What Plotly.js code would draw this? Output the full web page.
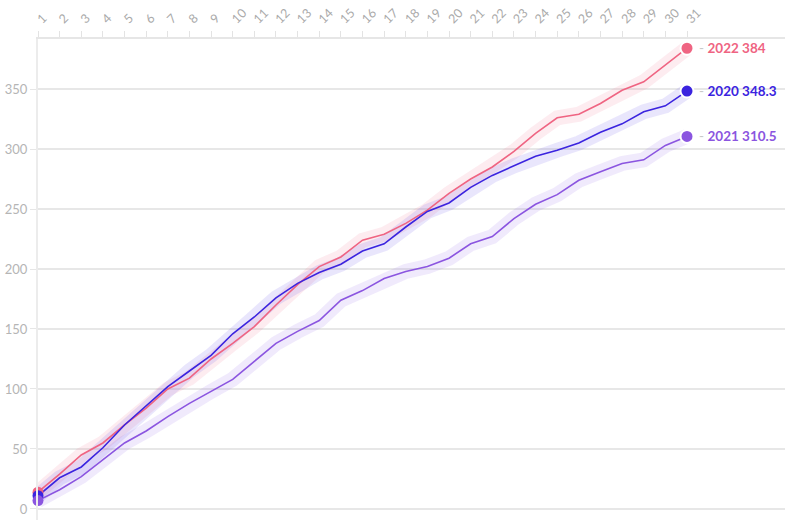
<!DOCTYPE html>
<html>
<head>
<meta charset="utf-8">
<script src="https://cdn.plot.ly/plotly-3.0.1.min.js"></script>
<style>html,body{margin:0;padding:0;background:#fff;}#chart{width:800px;height:526px;}</style>
</head>
<body>
<div id="chart"></div>
<script>
const days = Array.from({length: 31}, (_, i) => i + 1);
const seriesNames = ["2022", "2020", "2021"];
const values2022 = [14, 29, 45, 55, 70, 84, 100, 109, 125, 138, 152, 170, 187, 202, 210, 224, 229, 238, 249, 263, 275, 285, 298, 313, 326, 329, 338, 349, 356, 370, 384];
const values2020 = [11, 26, 35, 51, 70, 86, 102, 115, 128, 146, 160, 176, 188, 197, 204, 215, 221, 235, 248, 255, 268, 278, 286, 294, 299, 305, 314, 321, 331, 336, 348.3];
const values2021 = [7, 16, 27, 41, 55, 65, 77, 88, 98, 108, 123, 138, 148, 157, 174, 182, 192, 198, 202, 209, 221, 227, 242, 254, 262, 274, 281, 288, 291, 303, 310.5];
const xTickLabels = days.map(String);
const yTickVals = [0, 50, 100, 150, 200, 250, 300, 350];

const allValues = [values2022, values2020, values2021];
const lineColors = ["#ef6482", "#3b24df", "#8b55e0"];
const bandColors = ["rgba(240,100,130,0.12)", "rgba(110,90,235,0.15)", "rgba(140,90,235,0.13)"];

const traces = [];
allValues.forEach((vals, i) => {
  traces.push({x: days, y: vals, mode: "lines", line: {color: bandColors[i], width: 15}, hoverinfo: "skip", showlegend: false, cliponaxis: false});
});
allValues.forEach((vals, i) => {
  traces.push({x: days, y: vals, mode: "lines", line: {color: lineColors[i], width: 1.6}, showlegend: false, cliponaxis: false});
});
allValues.forEach((vals, i) => {
  traces.push({x: [days[0]], y: [vals[0]], mode: "markers", marker: {color: lineColors[i], size: 11}, showlegend: false, cliponaxis: false});
  const last = vals.length - 1;
  traces.push({x: [days[last]], y: [vals[last]], mode: "markers", marker: {color: lineColors[i], size: 13, line: {color: "#fff", width: 2}}, showlegend: false, cliponaxis: false});
});

const annotations = allValues.map((vals, i) => {
  const last = vals.length - 1;
  return {
    x: days[last], y: vals[last], xref: "x", yref: "y",
    text: "<span style='color:#c8c8c8'>-</span> <b>" + seriesNames[i] + " " + vals[last] + "</b>",
    showarrow: false, xanchor: "left", yanchor: "middle", xshift: 10,
    font: {family: "Lato, 'Open Sans', sans-serif", size: 13.5, color: lineColors[i]}
  };
});

const layout = {
  width: 800, height: 526,
  margin: {l: 38, r: 15, t: 39, b: 6},
  paper_bgcolor: "#fff", plot_bgcolor: "#fff",
  showlegend: false,
  xaxis: {
    side: "top", range: [1, 35.53], tickvals: days, ticktext: xTickLabels,
    tickangle: -45, ticks: "outside", ticklen: 6, tickcolor: "#e3e3e3", tickwidth: 1,
    showgrid: false, zeroline: false, showline: true, linecolor: "#e6e6e6", linewidth: 2,
    tickfont: {family: "Lato, 'Open Sans', sans-serif", size: 12.5, color: "#aaaaaa"}
  },
  yaxis: {
    range: [-9.2, 391.7], tickvals: yTickVals,
    ticks: "outside", ticklen: 6, tickcolor: "#e6e6e6", tickwidth: 1,
    showgrid: true, gridcolor: "#e7e7e7", gridwidth: 2,
    zeroline: false, showline: true, linecolor: "#ececec", linewidth: 2,
    tickfont: {family: "Lato, 'Open Sans', sans-serif", size: 13, color: "#b5b5b5"}
  },
  annotations: annotations
};

Plotly.newPlot("chart", traces, layout, {displayModeBar: false, staticPlot: true});
</script>
</body>
</html>
